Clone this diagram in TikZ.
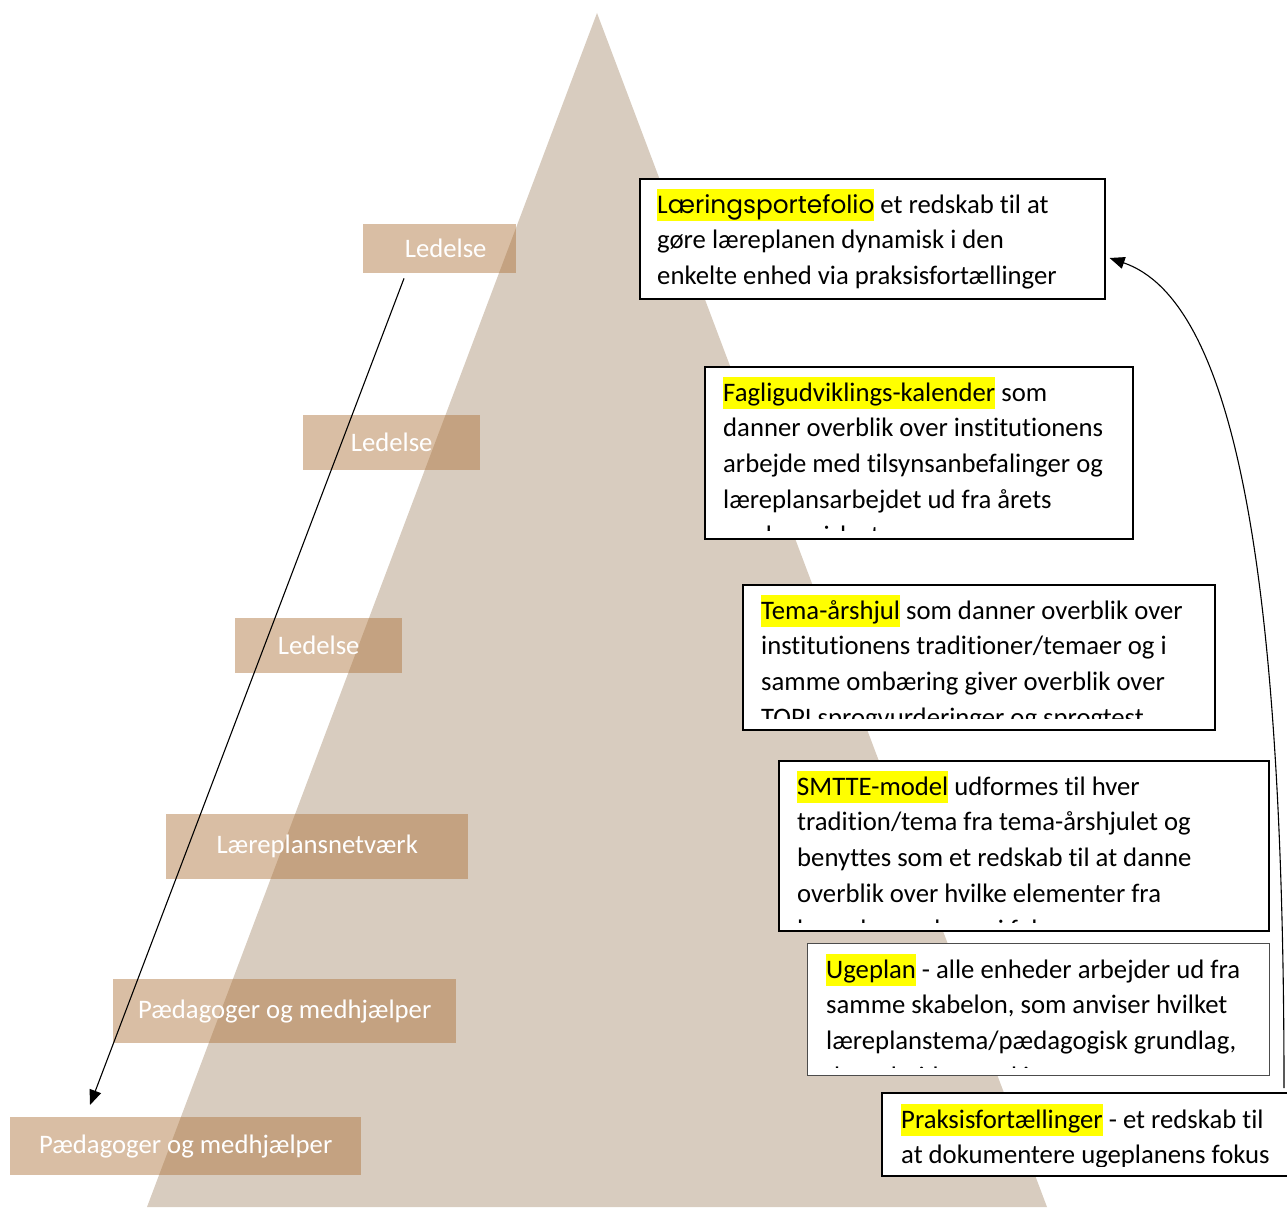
\documentclass[tikz,border=0pt]{standalone}
\usepackage{fontspec}
\setmainfont{Carlito}[Ligatures=NoCommon]
\newfontfamily\geofont{Poppins}
\usetikzlibrary{arrows.meta,calc}
\definecolor{tri}{RGB}{216,204,191}
\definecolor{tanc}{RGB}{173,114,56}
\definecolor{hly}{RGB}{255,255,0}
\newcommand{\hlw}[1]{{\setlength{\fboxsep}{0pt}\colorbox{hly}{\rule[-8pt]{0pt}{32pt}#1}}}
\begin{document}
\begin{tikzpicture}[x=1pt,y=-1pt,
  level/.style={fill=tanc, fill opacity=0.46, text opacity=1, text=white, inner sep=0pt, anchor=north west, font=\fontsize{26.7}{32}\selectfont},
  tbox/.style={draw=black, line width=1.6pt, fill=white, inner sep=0pt, anchor=north west},
  ttext/.style={anchor=north west, inner sep=0pt, align=left, font=\fontsize{26.7}{35.7}\selectfont},
  arr/.style={line width=1.1pt, -{Triangle[length=15pt,width=12pt]}}]
\useasboundingbox (0,0) rectangle (1287,1207);
% pyramid
\fill[tri] (597,13) -- (1047,1207) -- (147,1207) -- cycle;
% level labels
\node[level, minimum width=153pt, minimum height=49pt] (r1) at (363,224) {\hspace*{12pt}Ledelse};
\node[level, minimum width=177pt, minimum height=55pt] (r2) at (303,415) {Ledelse};
\node[level, minimum width=167pt, minimum height=55pt] (r3) at (235,618) {Ledelse};
\node[level, minimum width=302pt, minimum height=65pt] (r4) at (166,814) {Læreplansnetværk};
\node[level, minimum width=343pt, minimum height=64pt] (r5) at (113,979) {Pædagoger og medhjælper};
\node[level, minimum width=351pt, minimum height=58pt] (r6) at (10,1117) {Pædagoger og medhjælper};
% text boxes
\node[tbox, minimum width=465pt, minimum height=120pt] (b1) at (639,178) {};
\node[ttext] (t1) at (657,189) {\hlw{\geofont\fontsize{24.8}{35.7}\selectfont Læringsportefolio} et redskab til at\\gøre læreplanen dynamisk i den\\enkelte enhed via praksisfortællinger};

\node[tbox, minimum width=428pt, minimum height=172pt] (b2) at (704,366) {};
\begin{scope}
\clip (704,366) rectangle (1132,530);
\node[ttext] (t2) at (723,377) {\hlw{Fagligudviklings-kalender} som\\danner overblik over institutionens\\arbejde med tilsynsanbefalinger og\\læreplansarbejdet ud fra årets\\pædagogiske temaer};
\end{scope}

\node[tbox, minimum width=472pt, minimum height=145pt] (b3) at (742,584) {};
\begin{scope}
\clip (742,584) rectangle (1214,718);
\node[ttext] (t3) at (761,595) {\hlw{Tema-årshjul} som danner overblik over\\institutionens traditioner/temaer og i\\samme ombæring giver overblik over\\TOPI sprogvurderinger og sprogtest};
\end{scope}

\node[tbox, minimum width=490pt, minimum height=170pt] (b4) at (778,760) {};
\begin{scope}
\clip (778,760) rectangle (1268,922);
\node[ttext] (t4) at (797,771) {\hlw{SMTTE-model} udformes til hver\\tradition/tema fra tema-årshjulet og\\benyttes som et redskab til at danne\\overblik over hvilke elementer fra\\læreplanen der er i fokus};
\end{scope}

\node[tbox, draw=black!70, line width=1.2pt, minimum width=462pt, minimum height=132pt] (b5) at (807,943) {};
\begin{scope}
\clip (807,943) rectangle (1269,1067);
\node[ttext] (t5) at (826,954) {\hlw{Ugeplan} - alle enheder arbejder ud fra\\samme skabelon, som anviser hvilket\\læreplanstema/pædagogisk grundlag,\\der arbejdes med i ugen};
\end{scope}

\node[tbox, minimum width=420pt, minimum height=83pt] (b6) at (881,1092) {};
\begin{scope}
\clip (881,1092) rectangle (1301,1166);
\node[ttext] (t6) at (901,1104) {\hlw{Praksisfortællinger} - et redskab til\\at dokumentere ugeplanens fokus};
\end{scope}
% connectors
\coordinate (a1s) at ($(r1.south west)+(41,5)$);
\coordinate (a1e) at ($(r6.north west)+(80,-12)$);
\draw[arr] (a1s) -- (a1e);
\coordinate (a2s) at ($(b6.north west)+(403,-4)$);
\coordinate (a2e) at ($(b1.north east)+(4,80)$);
\draw[arr] (a2s) .. controls (1284,560) and (1232,300) .. (a2e);
\end{tikzpicture}
\end{document}
